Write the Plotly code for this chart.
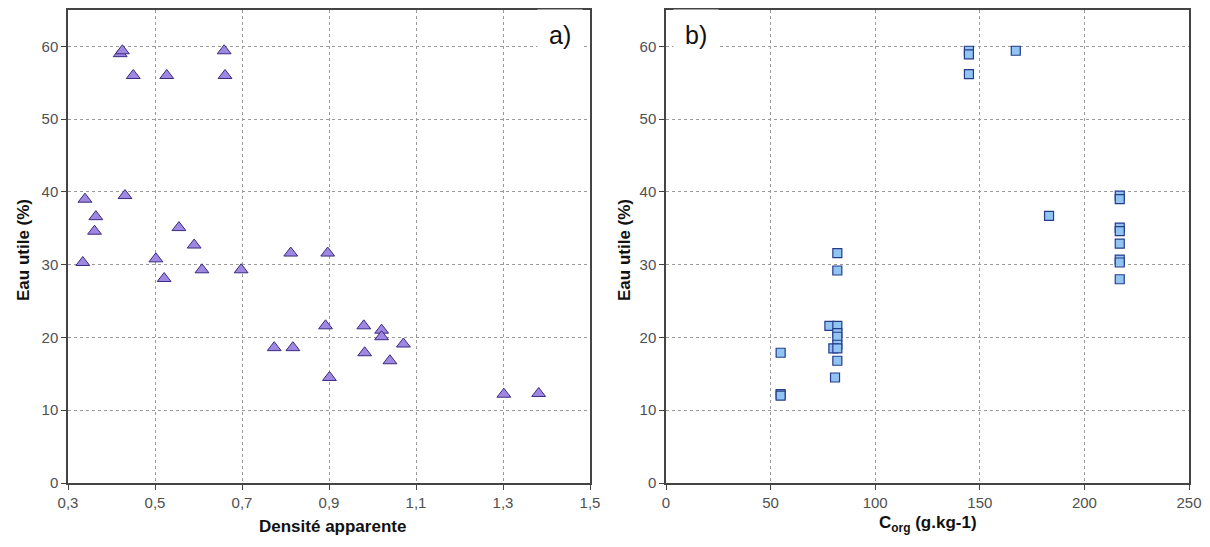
import plotly.graph_objects as go

# Panel a: Densité apparente vs Eau utile
da_x = [0.420, 0.425, 0.450, 0.527, 0.659, 0.661,
        0.339, 0.431, 0.364, 0.361, 0.555, 0.590,
        0.334, 0.502, 0.521, 0.608, 0.698, 0.812, 0.897, 0.892, 0.774, 0.817, 0.901,
        0.980, 0.982, 1.021, 1.021, 1.071, 1.040, 1.302, 1.382]
da_y = [59.0, 59.4, 56.0, 56.0, 59.4, 56.0,
        39.0, 39.5, 36.6, 34.6, 35.1, 32.7,
        30.3, 30.8, 28.1, 29.3, 29.3, 31.6, 31.6, 21.6, 18.6, 18.6, 14.5,
        21.6, 17.9, 21.0, 20.1, 19.1, 16.8, 12.2, 12.3]

# Panel b: Corg vs Eau utile
corg_x = [144.8, 144.8, 144.8, 167.2,
          216.9, 216.9, 216.9, 216.9, 216.9, 216.9, 216.9, 216.9,
          183.1,
          81.9, 81.9, 78.1, 81.9, 81.9, 81.9, 81.9, 80.0, 81.9, 81.9, 80.8,
          54.8, 54.8, 54.8]
corg_y = [59.4, 58.9, 56.2, 59.4,
          39.5, 39.0, 35.1, 34.6, 32.9, 30.7, 30.3, 28.0,
          36.7,
          31.6, 29.2, 21.6, 21.6, 20.6, 20.1, 19.0, 18.5, 18.5, 16.8, 14.5,
          17.9, 12.2, 12.0]

xa_ticks = [0.3, 0.5, 0.7, 0.9, 1.1, 1.3, 1.5]
xa_labels = ["0,3", "0,5", "0,7", "0,9", "1,1", "1,3", "1,5"]
xb_ticks = [0, 50, 100, 150, 200, 250]
y_ticks = [0, 10, 20, 30, 40, 50, 60]

# the page body adds an 8px margin; size the figure so it fits the window
OFF = 8
W, H = 1210 - 2 * OFF, 547 - 2 * OFF
FONT = "Liberation Sans, Arial, sans-serif"

def px(x):
    return (x - OFF) / W

def py(y):
    return 1 - (y - OFF) / H

fig = go.Figure()

fig.add_trace(go.Scatter(
    x=da_x, y=da_y, mode="markers", xaxis="x", yaxis="y",
    marker=dict(symbol="triangle-up", size=12, color="#9f88e2",
                line=dict(color="#3b2a80", width=1)),
    showlegend=False))

fig.add_trace(go.Scatter(
    x=corg_x, y=corg_y, mode="markers", xaxis="x2", yaxis="y2",
    marker=dict(symbol="square", size=9, color="#92c4f2",
                line=dict(color="#253c8c", width=1.2)),
    showlegend=False))

axis_common = dict(
    showline=True, mirror=True, linecolor="#444444", linewidth=1.5,
    ticks="outside", ticklen=5, tickcolor="#444444",
    showgrid=True, gridcolor="#9a9a9a", griddash="dot", gridwidth=1,
    zeroline=False, automargin=False,
    tickfont=dict(family=FONT, size=15, color="#505050"),
)

fig.update_layout(
    width=W, height=H, autosize=False,
    margin=dict(l=0, r=0, t=0, b=0, pad=0, autoexpand=False),
    paper_bgcolor="white", plot_bgcolor="white",
    font=dict(family=FONT),
    xaxis=dict(domain=[px(68), px(590)], range=[0.3, 1.5], anchor="y",
               tickvals=xa_ticks, ticktext=xa_labels, **axis_common),
    yaxis=dict(domain=[py(483), py(10)], range=[0, 65], anchor="x",
               tickvals=y_ticks, **axis_common),
    xaxis2=dict(domain=[px(666), px(1189)], range=[0, 250], anchor="y2",
                tickvals=xb_ticks, **axis_common),
    yaxis2=dict(domain=[py(483), py(10)], range=[0, 65], anchor="x2",
                tickvals=y_ticks, **axis_common),
)

title_font = dict(family=FONT, size=17, color="#111111")
annots = [
    dict(text="<b>Eau utile (%)</b>", x=px(23), y=py(250), textangle=-90),
    dict(text="<b>Eau utile (%)</b>", x=px(624), y=py(250), textangle=-90),
    dict(text="<b>Densité apparente</b>", x=px(332), y=py(526)),
    dict(text="<b>C<sub>org</sub> (g.kg-1)</b>", x=px(928), y=py(524)),
]
for a in annots:
    fig.add_annotation(xref="paper", yref="paper", showarrow=False,
                       xanchor="center", yanchor="middle",
                       font=title_font, **a)

fig.add_annotation(text="a)", xref="paper", yref="paper", x=px(560), y=py(35),
                   showarrow=False, xanchor="center", yanchor="middle",
                   font=dict(family=FONT, size=25, color="#111111"),
                   bgcolor="white", borderpad=11)
fig.add_annotation(text="b)", xref="paper", yref="paper", x=px(696), y=py(35),
                   showarrow=False, xanchor="center", yanchor="middle",
                   font=dict(family=FONT, size=25, color="#111111"),
                   bgcolor="white", borderpad=11)

fig.write_html("out.html")
